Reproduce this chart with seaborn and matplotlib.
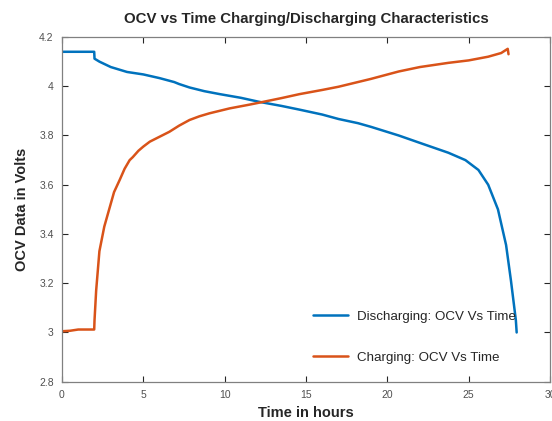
import matplotlib
matplotlib.use("Agg")
import matplotlib.pyplot as plt
import seaborn as sns
import pandas as pd

# Discharging OCV vs time (hours, volts)
dis_time = [0, 1.0, 1.98, 2.0, 2.3, 3.0, 4.0, 5.0, 6.0, 6.9, 7.2, 7.84, 8.75, 9.7, 11.0,
            12.1, 13.5, 14.6, 16.0, 17.0, 18.2, 19.0, 20.7, 22.0, 23.75, 24.8, 25.6, 26.2,
            26.8, 27.3, 27.6, 27.9, 27.95]
dis_ocv = [4.14, 4.14, 4.14, 4.112, 4.10, 4.078, 4.058, 4.048, 4.033, 4.017, 4.009, 3.995,
           3.98, 3.968, 3.953, 3.937, 3.92, 3.905, 3.885, 3.867, 3.85, 3.835, 3.80, 3.77,
           3.73, 3.70, 3.66, 3.60, 3.50, 3.355, 3.21, 3.05, 3.0]

# Charging OCV vs time
chg_time = [0, 0.5, 1.0, 1.5, 1.98, 2.0, 2.1, 2.3, 2.6, 2.9, 3.2, 3.55, 3.85, 4.16, 4.35,
            4.7, 5.0, 5.4, 6.0, 6.6, 7.2, 7.84, 8.45, 9.06, 10.3, 11.5, 12.25, 13.5, 14.6,
            16.0, 17.0, 19.0, 20.7, 22.0, 23.75, 25.0, 26.2, 27.0, 27.4, 27.45]
chg_ocv = [3.005, 3.007, 3.012, 3.012, 3.012, 3.05, 3.17, 3.33, 3.43, 3.50, 3.57, 3.62,
           3.665, 3.70, 3.712, 3.738, 3.755, 3.775, 3.795, 3.815, 3.84, 3.863, 3.878, 3.89,
           3.91, 3.925, 3.935, 3.952, 3.968, 3.985, 3.998, 4.03, 4.06, 4.078, 4.095, 4.105,
           4.12, 4.135, 4.152, 4.13]

legend_labels = ["Discharging: OCV Vs Time", "Charging: OCV Vs Time"]
colors = ["#0072BD", "#D95319"]

sns.set_theme(style="white")
plt.rcParams["font.family"] = ["Liberation Sans", "DejaVu Sans"]

fig = plt.figure(figsize=(5.52, 4.21), dpi=100)
ax = fig.add_axes([0.1123, 0.0933, 0.8841, 0.8188])

df_d = pd.DataFrame({"t": dis_time, "v": dis_ocv})
df_c = pd.DataFrame({"t": chg_time, "v": chg_ocv})
sns.lineplot(data=df_d, x="t", y="v", ax=ax, color=colors[0], lw=1.8,
             label=legend_labels[0], sort=False, estimator=None)
sns.lineplot(data=df_c, x="t", y="v", ax=ax, color=colors[1], lw=1.8,
             label=legend_labels[1], sort=False, estimator=None)

ax.set_xlim(0, 30)
ax.set_ylim(2.8, 4.2)
ax.set_xticks([0, 5, 10, 15, 20, 25, 30])
ax.set_xticklabels(["0", "5", "10", "15", "20", "25", "30"])
ax.set_yticks([2.8, 3.0, 3.2, 3.4, 3.6, 3.8, 4.0, 4.2])
ax.set_yticklabels(["2.8", "3", "3.2", "3.4", "3.6", "3.8", "4", "4.2"])

for s in ax.spines.values():
    s.set_color("#808080")
    s.set_linewidth(0.9)
ax.tick_params(direction="in", length=4, width=0.8, color="#262626",
               labelsize=7.5, labelcolor="#505050", top=True, right=True,
               bottom=True, left=True, pad=6)

ax.set_xlabel("Time in hours", fontsize=10.5, fontweight="bold", color="#262626", labelpad=4)
ax.set_ylabel("OCV Data in Volts", fontsize=10.5, fontweight="bold", color="#262626", labelpad=7)
ax.set_title("OCV vs Time Charging/Discharging Characteristics", fontsize=10.8,
             fontweight="bold", color="#262626", pad=10)

leg = ax.legend(loc="lower right", frameon=False, fontsize=9.6, labelspacing=2.15,
                handlelength=2.6, handletextpad=0.7, bbox_to_anchor=(0.955, 0.018))
for t in leg.get_texts():
    t.set_color("#262626")

fig.savefig("out.png", dpi=100)
